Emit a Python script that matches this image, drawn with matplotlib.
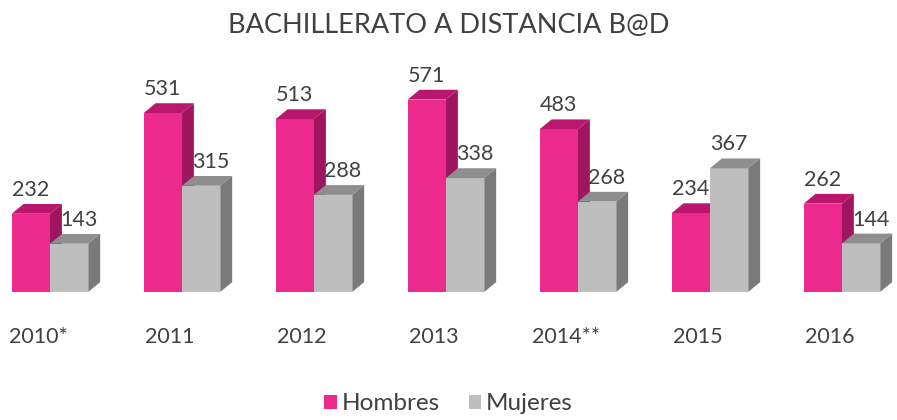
import numpy as np
import matplotlib.pyplot as plt
from matplotlib.patches import Polygon, Patch

years = ['2010*', '2011', '2012', '2013', '2014**', '2015', '2016']
hombres = [232, 531, 513, 571, 483, 234, 262]
mujeres = [143, 315, 288, 338, 268, 367, 144]

pink = '#EC2A8E'
pink_top = '#B8176D'
pink_side = '#A0155F'
gray = '#BEBEBE'
gray_top = '#8E8E8E'
gray_side = '#7A7A7A'
txt = '#404040'

plt.rcParams['font.family'] = ['Lato', 'DejaVu Sans']

fig = plt.figure(figsize=(8.97, 4.2), dpi=100)
ax = fig.add_axes([0, 0.305, 1, 0.60])
ax.set_xlim(-0.379, 6.417)
ax.set_ylim(0, 748)
ax.axis('off')

w = 0.29      # bar width (category units)
dx = 0.09     # depth offset x
dy = 29       # depth offset y (data units)

x = np.arange(len(years))


def bar3d(x0, h, front, top, side, shift=0.0):
    x1 = x0 + w
    ax.add_patch(Polygon([(x0, 0), (x1, 0), (x1, h), (x0, h)], closed=True,
                         facecolor=front, edgecolor='none'))
    ax.add_patch(Polygon([(x0, h), (x1, h), (x1 + dx, h + dy), (x0 + dx, h + dy)],
                         closed=True, facecolor=top, edgecolor='none'))
    ax.add_patch(Polygon([(x1, 0), (x1, h), (x1 + dx, h + dy), (x1 + dx, dy)],
                         closed=True, facecolor=side, edgecolor='none'))
    ax.text(x0 + shift, h + dy + 12, str(h), ha='left', va='bottom', fontsize=15.5,
            color=txt, zorder=10)


for i in range(len(years)):
    left = x[i] - w
    bar3d(left, hombres[i], pink, pink_top, pink_side)
    # label of the gray bar moves right when the pink side is behind it
    s = dx * 0.85 if hombres[i] > mujeres[i] else 0.0
    bar3d(x[i], mujeres[i], gray, gray_top, gray_side, s)
    fig.text((50 + 132 * i - 38 + 26) / 897, (420 - 337) / 420, years[i],
             ha='center', va='center', fontsize=15.5, color=txt)

fig.text(0.5, (420 - 25) / 420, 'BACHILLERATO A DISTANCIA B@D', ha='center', va='center',
         fontsize=19.5, color=txt)

handles = [Patch(facecolor=pink, label='Hombres'), Patch(facecolor=gray, label='Mujeres')]
fig.legend(handles=handles, loc='center', bbox_to_anchor=(0.5, 16 / 420), ncol=2,
           frameon=False, fontsize=17.5, labelcolor=txt, handlelength=0.5, handleheight=0.5,
           handletextpad=0.2, columnspacing=1.2)

fig.savefig('out.png', dpi=100)
